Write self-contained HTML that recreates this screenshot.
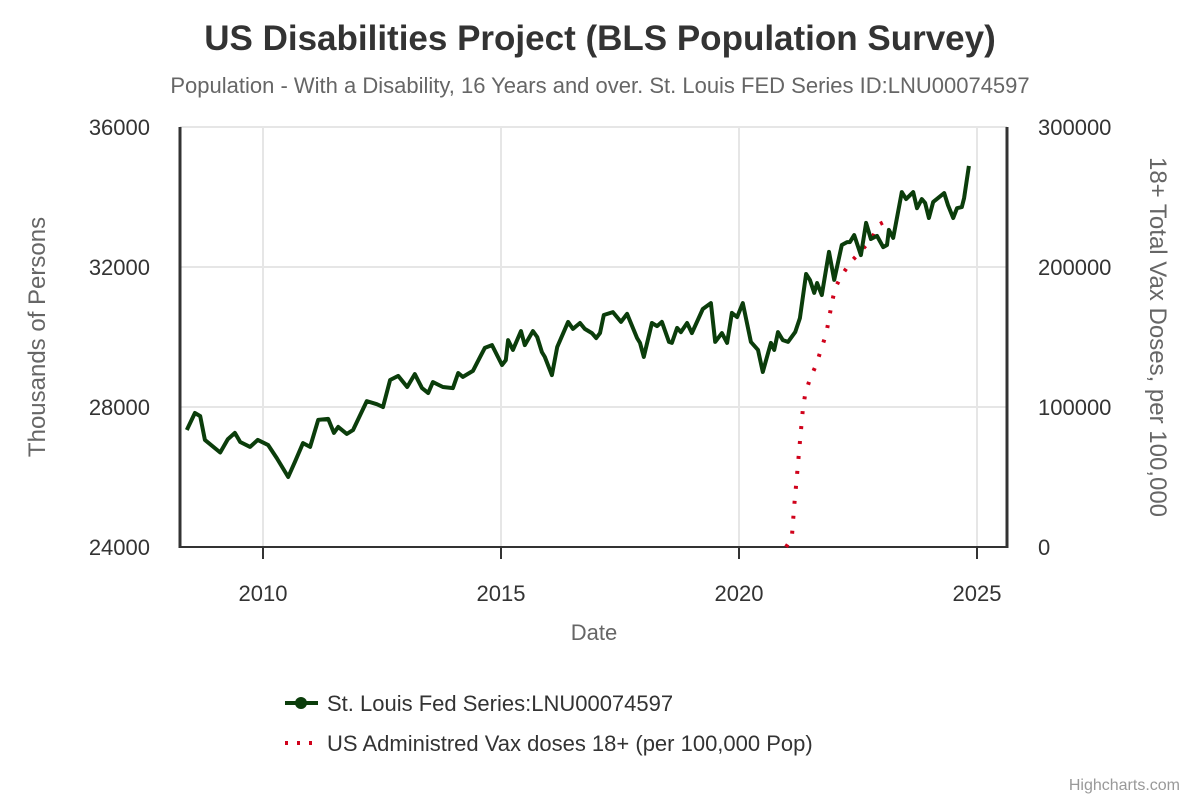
<!DOCTYPE html>
<html><head><meta charset="utf-8"><style>
body{margin:0;background:#fff;font-family:"Liberation Sans",sans-serif}
svg text{font-family:"Liberation Sans",sans-serif}
</style></head><body>
<svg width="1200" height="800" xmlns="http://www.w3.org/2000/svg">
<rect width="1200" height="800" fill="#fff"/>
<text x="600" y="50" text-anchor="middle" font-size="35" font-weight="bold" fill="#333">US Disabilities Project (BLS Population Survey)</text>
<text x="600" y="93" text-anchor="middle" font-size="22" fill="#666">Population - With a Disability, 16 Years and over. St. Louis FED Series ID:LNU00074597</text>
<g id="grid"></g>
<g id="axes"></g>
<path id="vax" fill="none" stroke="#d0021b" stroke-width="4" stroke-dasharray="3,12"/>
<path id="dis" fill="none" stroke="#0b3d0b" stroke-width="4" stroke-linejoin="round"/>
<text x="45" y="337" transform="rotate(-90 45 337)" text-anchor="middle" font-size="24" fill="#666">Thousands of Persons</text>
<text x="1150" y="337" transform="rotate(90 1150 337)" text-anchor="middle" font-size="24" fill="#666">18+ Total Vax Doses, per 100,000</text>
<text x="594" y="640" text-anchor="middle" font-size="22" fill="#666">Date</text>
<g>
<line x1="285" y1="703" x2="318" y2="703" stroke="#0b3d0b" stroke-width="4"/>
<circle cx="301" cy="703" r="6" fill="#0b3d0b"/>
<text x="327" y="711" font-size="22" fill="#333">St. Louis Fed Series:LNU00074597</text>
</g>
<g>
<line x1="285" y1="743" x2="318" y2="743" stroke="#d0021b" stroke-width="4" stroke-dasharray="3,9"/>
<text x="327" y="751" font-size="22" fill="#333">US Administred Vax doses 18+ (per 100,000 Pop)</text>
</g>
<text x="1180" y="790" text-anchor="end" font-size="16" fill="#999">Highcharts.com</text>
</svg>
<script>
const disDates=[2008.40,2008.57,2008.68,2008.78,2009.10,2009.26,2009.41,2009.52,2009.73,2009.89,2010.11,2010.29,2010.53,2010.67,2010.84,2010.99,2011.16,2011.37,2011.49,2011.58,2011.76,2011.89,2012.18,2012.39,2012.52,2012.67,2012.84,2013.03,2013.19,2013.34,2013.47,2013.57,2013.78,2013.99,2014.10,2014.20,2014.41,2014.56,2014.66,2014.81,2015.02,2015.10,2015.15,2015.25,2015.42,2015.50,2015.67,2015.76,2015.86,2015.92,2016.07,2016.18,2016.41,2016.51,2016.66,2016.76,2016.91,2017.00,2017.08,2017.16,2017.35,2017.52,2017.65,2017.86,2017.92,2018.00,2018.17,2018.28,2018.38,2018.53,2018.59,2018.70,2018.78,2018.91,2019.01,2019.24,2019.41,2019.50,2019.64,2019.75,2019.85,2019.96,2020.08,2020.25,2020.40,2020.50,2020.67,2020.74,2020.82,2020.92,2021.03,2021.18,2021.28,2021.41,2021.49,2021.58,2021.64,2021.74,2021.89,2022.00,2022.16,2022.27,2022.33,2022.42,2022.56,2022.67,2022.77,2022.90,2023.03,2023.11,2023.15,2023.24,2023.42,2023.51,2023.66,2023.74,2023.84,2023.91,2023.99,2024.08,2024.31,2024.39,2024.50,2024.58,2024.68,2024.73,2024.83];
const disValues=[27343,27830,27740,27060,26700,27080,27260,27000,26860,27060,26910,26540,26000,26430,26970,26860,27630,27660,27260,27430,27230,27340,28170,28080,28000,28770,28890,28570,28940,28540,28400,28710,28570,28540,28970,28860,29030,29430,29690,29770,29200,29340,29910,29630,30170,29770,30170,30000,29570,29430,28910,29710,30430,30230,30400,30230,30110,29970,30110,30630,30710,30430,30660,29970,29830,29430,30400,30310,30430,29860,29830,30260,30140,30400,30110,30800,30970,29860,30110,29830,30690,30570,30970,29860,29630,29000,29830,29630,30140,29910,29860,30140,30540,31800,31630,31260,31540,31200,32430,31630,32630,32710,32710,32910,32340,33260,32800,32890,32570,32630,33060,32830,34140,33940,34140,33680,33940,33830,33400,33860,34110,33770,33400,33680,33710,33970,34890];
const vaxDates=[2020.99,2021.11,2021.16,2021.22,2021.28,2021.34,2021.39,2021.49,2021.62,2021.72,2021.83,2021.89,2021.95,2022.02,2022.16,2022.35,2022.56,2022.79,2022.92,2023.21];
const vaxValues=[0,6400,29300,52100,75000,97900,109300,120000,130000,140700,152100,162900,174300,185000,194300,203600,211400,220000,230000,235000];
const leftTicks=[24000,28000,32000,36000];
const rightTicks=[0,100000,200000,300000];
const yearTicks=[2010,2015,2020,2025];
const L=180,R=1007,T=127,B=547;
const xS=y=>263+(y-2010)*47.6;
const yL=v=>B-(v-24000)/12000*(B-T);
const yR=v=>B-v/300000*(B-T);
const NS='http://www.w3.org/2000/svg';
function mk(tag,attrs,parent,txt){const e=document.createElementNS(NS,tag);for(const k in attrs)e.setAttribute(k,attrs[k]);if(txt!==undefined)e.textContent=txt;parent.appendChild(e);return e;}
const grid=document.getElementById('grid'),axes=document.getElementById('axes');
leftTicks.forEach((t,i)=>{const y=yL(t);
 if(i>0){const g=mk('line',{x1:L,x2:R,y1:y,y2:y,stroke:'#e6e6e6','stroke-width':2},grid);}
 const l=mk('text',{x:150,y:y+8,'text-anchor':'end','font-size':22,fill:'#333'},axes,t);});
rightTicks.forEach(t=>{const y=yR(t);const l=mk('text',{x:1038,y:y+8,'font-size':22,fill:'#333'},axes,t);});
yearTicks.forEach(t=>{const x=xS(t);
 if(x<R){const g=mk('line',{x1:x,x2:x,y1:T,y2:B,stroke:'#e6e6e6','stroke-width':2},grid);}
 const k=mk('line',{x1:x,x2:x,y1:B,y2:B+12,stroke:'#333','stroke-width':2},axes);
 const l=mk('text',{x:x,y:601,'text-anchor':'middle','font-size':22,fill:'#333'},axes,t);});
const a1=mk('line',{x1:L,x2:L,y1:T,y2:B+1,stroke:'#333','stroke-width':3},axes);
const a2=mk('line',{x1:R,x2:R,y1:T,y2:B+1,stroke:'#333','stroke-width':3},axes);
const a3=mk('line',{x1:L,x2:R,y1:B,y2:B,stroke:'#333','stroke-width':2},axes);
document.getElementById('dis').setAttribute('d',disDates.map((d,i)=>(i?'L':'M')+xS(d).toFixed(1)+','+yL(disValues[i]).toFixed(1)).join(''));
document.getElementById('vax').setAttribute('d',vaxDates.map((d,i)=>(i?'L':'M')+xS(d).toFixed(1)+','+yR(vaxValues[i]).toFixed(1)).join(''));
</script>
</body></html>
